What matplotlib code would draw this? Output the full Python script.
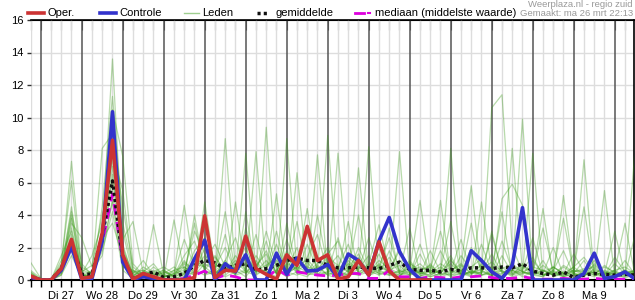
import numpy as np
import matplotlib
matplotlib.use("Agg")
import matplotlib.pyplot as plt
from matplotlib.lines import Line2D

plt.rcParams['font.family'] = ['Liberation Sans', 'DejaVu Sans']

# 6-hourly steps, day 0 = Di 27 00:00, first point = ma 26 18:00
dagen = ['Di 27', 'Wo 28', 'Do 29', 'Vr 30', 'Za 31', 'Zo 1', 'Ma 2',
         'Di 3', 'Wo 4', 'Do 5', 'Vr 6', 'Za 7', 'Zo 8', 'Ma 9']

oper = [0.25, 0, 0, 0.7, 2.5, 0.1, 0.2, 2.9, 8.6, 1.55,
        0.05, 0.4, 0.2, 0, 0, 0, 0.15, 3.95, 0.15, 0.6,
        0.55, 2.7, 0.7, 0.35, 0.05, 1.55, 0.9, 3.3, 1.2, 1.55,
        0.05, 0.2, 1.2, 0.3, 2.35, 0.55, 0, 0, 0, 0]

controle = [0.2, 0, 0, 0.6, 2.05, 0.05, 0.1, 2.4, 10.35, 1.1,
            0.05, 0.2, 0.1, 0, 0, 0, 1.3, 2.45, 0, 1.0,
            0.5, 1.55, 0, 0, 1.65, 0.35, 1.35, 0.55, 0.6, 0.95,
            0.15, 1.6, 1.2, 0.3, 2.4, 3.85, 1.75, 0.65, 0.05, 0,
            0, 0, 0, 1.8, 1.2, 0.5, 0.1, 0.9, 4.45, 0,
            0, 0, 0, 0, 0.4, 1.65, 0.1, 0.2, 0.5, 0.05]

gemiddelde = [0.2, 0, 0, 0.7, 2.2, 0.35, 0.35, 2.7, 6.1, 1.3,
              0.1, 0.3, 0.5, 0.15, 0.2, 0.4, 0.9, 1.2, 1.05, 0.7,
              0.9, 1.0, 0.6, 0.7, 0.9, 1.2, 1.35, 1.2, 1.2, 0.9,
              0.75, 0.75, 0.8, 0.75, 0.7, 0.9, 1.1, 0.65, 0.6, 0.6,
              0.5, 0.65, 0.55, 0.75, 0.75, 0.7, 0.8, 0.75, 1.0, 0.55,
              0.4, 0.3, 0.5, 0.15, 0.3, 0.4, 0.35, 0.3, 0.35, 0.3]

mediaan = [0.15, 0, 0, 0.6, 2.0, 0.1, 0.2, 2.3, 5.3, 1.2,
           0.05, 0.2, 0.2, 0, 0, 0.1, 0.3, 0.55, 0.1, 0.3,
           0.2, 0, 0, 0.1, 0.65, 0.3, 0.5, 0.4, 0.3, 0.25,
           0.3, 0.4, 0.4, 0.1, 0.1, 0.6, 0.2, 0.2, 0.1, 0.2,
           0.15, 0.1, 0.2, 0.2, 0.25, 0.15, 0.1, 0.1, 0.2, 0.1,
           0.05, 0.05, 0.1, 0.05, 0.05, 0.1, 0.05, 0.05, 0.05, 0.05]

# ensemble members
leden = [
    [0.3, 0, 0, 0.8, 7.3, 0.6, 0.4, 3.0, 13.6, 2.0, 0.3, 0.5, 0.2, 0.1, 0.0, 0.4, 1.2, 0.8, 0.3, 8.7,
     0.6, 0.2, 1.0, 0.3, 0.5, 1.8, 0.4, 0.2, 0.9, 0.3, 0.1, 0.6, 1.4, 0.2, 0.8, 0.5, 0.2, 1.1, 0.3, 0.2,
     0.4, 1.3, 0.2, 0.6, 0.3, 10.6, 11.4, 2.0, 0.5, 0.3, 0.2, 0.8, 0.4, 0.1, 0.6, 0.3, 0.2, 0.5, 0.1, 0.4],
    [0.5, 0, 0, 1.0, 6.1, 0.3, 0.2, 4.5, 11.3, 3.5, 0.6, 0.2, 0.8, 0.3, 0.1, 0.2, 0.5, 4.8, 0.6, 1.0,
     0.3, 7.8, 0.5, 1.2, 0.4, 0.6, 2.0, 0.3, 0.5, 8.9, 0.4, 0.2, 0.7, 1.5, 0.3, 0.6, 1.8, 0.4, 0.2, 1.0,
     0.3, 0.5, 2.5, 0.4, 0.9, 0.2, 0.6, 8.1, 0.5, 0.3, 1.2, 0.2, 0.4, 0.8, 0.3, 0.5, 0.1, 0.6, 3.5, 0.2],
    [1.1, 0.1, 0, 0.6, 4.5, 0.2, 0.5, 2.5, 10.5, 7.6, 1.0, 0.3, 0.1, 0.5, 0.2, 0.8, 0.3, 0.6, 1.5, 0.4,
     4.8, 0.5, 0.3, 9.4, 0.6, 0.2, 0.5, 1.1, 0.3, 0.4, 7.8, 0.5, 0.3, 0.8, 2.2, 0.4, 0.3, 0.6, 4.9, 0.5,
     0.2, 0.4, 0.8, 5.8, 0.3, 0.5, 0.2, 0.6, 0.4, 7.8, 0.3, 0.5, 0.2, 0.4, 1.2, 0.3, 5.5, 0.2, 0.5, 0.3],
    [0.2, 0, 0, 0.4, 4.0, 0.1, 0.3, 8.1, 9.0, 1.5, 0.2, 0.1, 3.4, 0.3, 0.6, 0.2, 4.0, 0.5, 0.3, 1.2,
     0.4, 0.6, 7.9, 0.5, 0.2, 8.7, 0.6, 0.4, 0.3, 1.0, 0.5, 0.3, 6.9, 0.4, 0.6, 0.3, 0.2, 0.9, 0.4, 0.5,
     4.9, 0.3, 0.4, 0.2, 4.8, 0.6, 0.3, 0.5, 9.9, 0.4, 0.6, 0.3, 5.2, 0.4, 0.2, 0.7, 0.3, 0.2, 0.6, 0.3],
    [0.1, 0, 0, 0.7, 3.5, 2.6, 0.8, 2.0, 8.0, 2.5, 3.6, 0.4, 0.2, 0.1, 3.7, 0.5, 0.3, 1.0, 0.6, 0.2,
     0.5, 1.3, 0.4, 0.6, 5.3, 0.3, 6.6, 0.5, 7.7, 0.4, 0.3, 1.2, 0.5, 8.2, 0.4, 0.6, 0.3, 0.5, 0.2, 0.6,
     0.4, 8.1, 0.3, 0.5, 0.6, 0.2, 5.0, 5.9, 4.6, 0.3, 4.4, 0.2, 0.5, 0.3, 0.4, 0.2, 0.6, 0.3, 0.2, 8.2],
    [0.4, 0, 0, 1.5, 3.0, 0.4, 1.5, 3.5, 7.5, 1.0, 0.5, 0.6, 0.3, 0.2, 0.4, 4.6, 0.6, 0.3, 0.5, 0.8,
     0.3, 0.5, 0.6, 0.4, 1.0, 0.5, 0.3, 0.6, 0.4, 0.5, 0.2, 0.4, 0.3, 0.5, 1.6, 0.3, 7.9, 0.4, 0.5, 0.3,
     0.6, 0.2, 0.4, 0.5, 0.3, 0.4, 0.6, 0.2, 0.4, 0.5, 0.3, 0.6, 0.2, 0.4, 7.4, 0.3, 0.5, 0.2, 0.4, 0.3],
    [0.2, 0, 0, 0.5, 2.8, 0.3, 0.2, 2.2, 6.5, 1.2, 0.3, 0.5, 1.0, 0.2, 0.3, 1.5, 2.4, 0.6, 0.3, 1.2,
     2.6, 0.4, 1.5, 0.6, 2.2, 0.5, 1.0, 3.0, 0.6, 0.8, 1.5, 0.4, 2.0, 0.6, 0.3, 1.8, 0.5, 1.2, 0.4, 0.3,
     0.6, 1.5, 0.3, 0.4, 2.2, 0.5, 0.8, 0.3, 1.0, 0.4, 0.2, 0.6, 1.8, 0.3, 0.4, 1.2, 0.3, 0.6, 0.2, 0.5],
    [0.3, 0, 0, 0.9, 2.5, 0.8, 0.4, 3.0, 5.5, 2.2, 0.2, 0.8, 0.4, 0.6, 0.2, 0.5, 3.0, 1.6, 0.8, 2.0,
     0.5, 3.2, 0.8, 1.8, 0.4, 2.5, 0.6, 1.4, 2.8, 0.5, 0.8, 2.2, 0.4, 1.0, 3.4, 0.6, 0.9, 0.3, 1.6, 0.4,
     0.8, 0.3, 1.5, 0.6, 0.4, 2.8, 0.5, 0.3, 0.7, 1.4, 0.3, 0.8, 0.4, 1.6, 0.5, 0.3, 0.9, 0.4, 1.2, 0.3],
    [0.6, 0.1, 0, 0.3, 2.0, 0.2, 0.6, 1.5, 5.0, 0.8, 0.6, 0.3, 0.5, 0.8, 0.4, 2.5, 0.8, 3.4, 1.0, 0.5,
     1.5, 0.6, 2.8, 0.4, 1.2, 0.8, 3.6, 0.5, 1.0, 2.0, 0.4, 1.0, 0.6, 2.6, 0.5, 1.4, 0.4, 0.8, 0.3, 1.8,
     0.5, 1.0, 0.4, 2.0, 0.6, 0.3, 1.5, 0.4, 0.8, 0.3, 0.9, 0.4, 0.3, 0.8, 1.4, 0.5, 0.3, 1.0, 0.4, 0.6],
    [0.1, 0, 0, 0.6, 3.8, 0.4, 0.1, 2.6, 7.0, 1.8, 0.4, 1.2, 0.3, 0.4, 0.8, 0.3, 1.8, 2.6, 0.4, 0.6,
     1.0, 2.0, 0.5, 3.0, 0.8, 1.2, 0.4, 2.2, 0.6, 1.6, 2.4, 0.5, 1.2, 0.4, 0.8, 2.6, 0.5, 0.6, 1.0, 0.4,
     1.8, 0.5, 0.6, 0.3, 1.0, 0.4, 2.4, 0.6, 0.3, 1.2, 0.4, 2.0, 0.3, 0.5, 0.6, 0.8, 0.3, 1.4, 0.5, 0.2],
    [0.4, 0, 0, 1.2, 2.2, 0.5, 0.9, 4.0, 6.0, 3.0, 0.3, 0.2, 0.6, 0.3, 0.2, 1.0, 0.5, 1.2, 2.2, 0.8,
     0.6, 1.0, 0.3, 0.7, 1.6, 0.4, 0.8, 0.5, 1.4, 0.6, 0.3, 0.8, 1.6, 0.4, 1.0, 0.5, 2.0, 0.4, 0.6, 0.8,
     0.3, 0.6, 1.0, 0.4, 0.5, 1.6, 0.4, 0.8, 0.5, 0.3, 0.6, 0.3, 0.8, 0.4, 0.2, 1.0, 0.4, 0.3, 0.6, 0.4],
    [0.2, 0, 0, 0.3, 1.5, 0.2, 0.3, 1.8, 4.2, 0.6, 0.1, 0.4, 0.2, 0.1, 0.6, 0.8, 0.4, 2.0, 0.5, 0.3,
     0.8, 0.4, 1.2, 0.3, 0.6, 1.5, 0.5, 0.4, 0.8, 0.3, 0.6, 0.3, 0.5, 0.8, 0.4, 0.3, 0.6, 0.3, 0.5, 0.2,
     0.4, 0.3, 0.6, 0.2, 0.5, 0.3, 0.4, 0.6, 0.2, 0.5, 0.3, 0.4, 0.2, 0.6, 0.3, 0.5, 0.2, 0.3, 0.4, 0.6],
    [0.3, 0, 0, 0.8, 4.2, 1.0, 0.3, 2.8, 9.2, 4.5, 0.8, 0.3, 0.4, 0.2, 0.3, 1.2, 0.4, 3.8, 0.6, 4.2,
     0.4, 1.6, 0.5, 2.4, 0.3, 3.5, 0.6, 0.4, 4.0, 0.8, 0.5, 3.6, 0.4, 0.6, 2.0, 0.4, 0.5, 3.2, 0.4, 0.6,
     3.0, 0.5, 0.4, 3.5, 0.3, 0.6, 4.2, 0.3, 0.5, 0.4, 3.2, 0.5, 0.3, 0.6, 4.5, 0.3, 0.5, 0.4, 0.3, 2.8],
    [0.5, 0, 0, 0.5, 3.2, 0.3, 0.2, 2.4, 7.8, 5.5, 0.5, 0.2, 0.3, 0.6, 0.2, 0.4, 3.5, 0.4, 0.6, 2.8,
     0.3, 4.2, 0.5, 0.6, 3.0, 0.4, 0.8, 4.4, 0.3, 0.5, 2.6, 0.6, 4.0, 0.3, 0.5, 3.2, 0.4, 0.3, 2.2, 0.4,
     0.6, 3.6, 0.3, 0.5, 0.4, 3.0, 0.5, 0.4, 0.6, 2.6, 0.3, 0.5, 3.8, 0.4, 0.3, 0.6, 0.4, 3.0, 0.3, 0.5],
    [0.2, 0, 0, 0.6, 2.4, 0.2, 0.3, 2.0, 4.8, 1.0, 0.2, 0.3, 0.5, 0.2, 0.4, 0.6, 1.0, 0.8, 1.4, 0.6,
     1.2, 0.5, 0.9, 1.6, 0.4, 1.0, 0.7, 1.3, 0.5, 1.1, 0.6, 1.4, 0.8, 0.5, 1.2, 0.7, 0.4, 1.0, 0.6, 0.9,
     0.4, 1.2, 0.5, 0.8, 1.3, 0.4, 0.7, 1.0, 0.5, 0.8, 0.6, 0.3, 0.9, 0.5, 0.7, 0.4, 0.8, 0.5, 0.3, 0.6],
    [0.3, 0, 0, 0.4, 1.8, 0.4, 0.5, 2.6, 3.5, 1.4, 0.4, 0.6, 0.3, 0.5, 0.3, 1.1, 0.6, 1.5, 0.8, 1.0,
     0.7, 1.3, 0.6, 0.9, 1.4, 0.6, 1.2, 0.8, 0.6, 1.4, 0.9, 0.5, 1.1, 0.7, 0.9, 0.5, 1.2, 0.6, 0.8, 0.5,
     1.0, 0.6, 0.9, 0.4, 0.7, 1.1, 0.5, 0.6, 0.9, 0.4, 0.5, 0.8, 0.4, 0.6, 0.5, 0.9, 0.4, 0.6, 0.8, 0.4],
]

t = np.arange(len(controle)) * 0.25 - 0.25

fig = plt.figure(figsize=(6.35, 3.0), dpi=100)
ax = fig.add_axes([30.5 / 635, 20 / 300, (634 - 30.5) / 635, 260 / 300])

for lid in leden:
    ax.plot(t[:len(lid)], lid, color='#3a9a18', alpha=0.36, lw=0.9, zorder=3)
ax.plot(t[:len(mediaan)], mediaan, color='#dd00dd', lw=2, ls=(0, (4, 2.5)), zorder=4)
ax.plot(t[:len(gemiddelde)], gemiddelde, color='#111111', lw=2.5, ls=(0, (0.9, 0.9)), zorder=5)
ax.plot(t[:len(controle)], controle, color='#3333cc', lw=2.6, zorder=6)
ax.plot(t[:len(oper)], oper, color='#cc3333', lw=2.6, zorder=7)

# grid
for x in np.arange(-0.25, 14.5, 0.25):
    if abs(x - round(x)) < 1e-6:
        ax.axvline(x, color='#555555', lw=1.1, zorder=2)
    else:
        ax.axvline(x, color='#dddddd', lw=1, zorder=1)
for y in range(2, 16, 2):
    ax.axhline(y, color='#dddddd', lw=1, zorder=1)

ax.set_xlim(-0.25, 14.47)
ax.set_ylim(0, 16)
ax.set_yticks(range(0, 17, 2))
ticks = np.arange(-0.25, 14.47, 0.25)
labels = []
for x in ticks:
    if abs(x - np.floor(x) - 0.5) < 1e-6 and int(np.floor(x)) < len(dagen):
        labels.append(dagen[int(np.floor(x))])
    else:
        labels.append('')
ax.set_xticks(ticks)
ax.set_xticklabels(labels)
ax.tick_params(axis='x', length=5, width=1, color='black', labelsize=8, pad=3)
ax.tick_params(axis='y', length=3, width=1, color='#333333', labelsize=8, pad=2)
ax.spines['left'].set_visible(False)
ax.spines['bottom'].set_linewidth(1.5)
ax.spines['top'].set_linewidth(1.2)
ax.spines['right'].set_linewidth(1.2)

# top inward ticks
sec = ax.secondary_xaxis('top')
sec.set_xticks(ticks)
sec.set_xticklabels([])
sec.tick_params(direction='in', length=7, color='#444444')

# legend drawn by hand (pixel coordinates)
def fx(px):
    return px / 635

def fy(py):
    return 1 - py / 300

ly = 13
fig.add_artist(Line2D([fx(28), fx(44)], [fy(ly), fy(ly)], color='#cc3333', lw=2.6))
fig.text(fx(48), fy(ly), 'Oper.', fontsize=8, va='center')
fig.add_artist(Line2D([fx(100), fx(116)], [fy(ly), fy(ly)], color='#3333cc', lw=2.6))
fig.text(fx(119), fy(ly), 'Controle', fontsize=8, va='center')
fig.add_artist(Line2D([fx(184), fx(199)], [fy(ly), fy(ly)], color='#9fcf8f', lw=1))
fig.text(fx(202), fy(ly), 'Leden', fontsize=8, va='center')
fig.add_artist(Line2D([fx(257), fx(269)], [fy(ly), fy(ly)], color='#111111', lw=2.5,
                      ls=(0, (0.9, 0.9))))
fig.text(fx(276), fy(ly), 'gemiddelde', fontsize=8, va='center')
fig.add_artist(Line2D([fx(355), fx(364)], [fy(ly), fy(ly)], color='#dd00dd', lw=2))
fig.add_artist(Line2D([fx(368), fx(369.5)], [fy(ly), fy(ly)], color='#dd00dd', lw=1.5))
fig.text(fx(375), fy(ly), 'mediaan (middelste waarde)', fontsize=8, va='center')
fig.text(fx(633), fy(4.5), 'Weerplaza.nl - regio zuid', fontsize=6.8, color='#999999',
         ha='right', va='center')
fig.text(fx(633), fy(13.5), 'Gemaakt: ma 26 mrt 22:13', fontsize=6.8, color='#999999',
         ha='right', va='center')

fig.savefig('out.png', dpi=100)
